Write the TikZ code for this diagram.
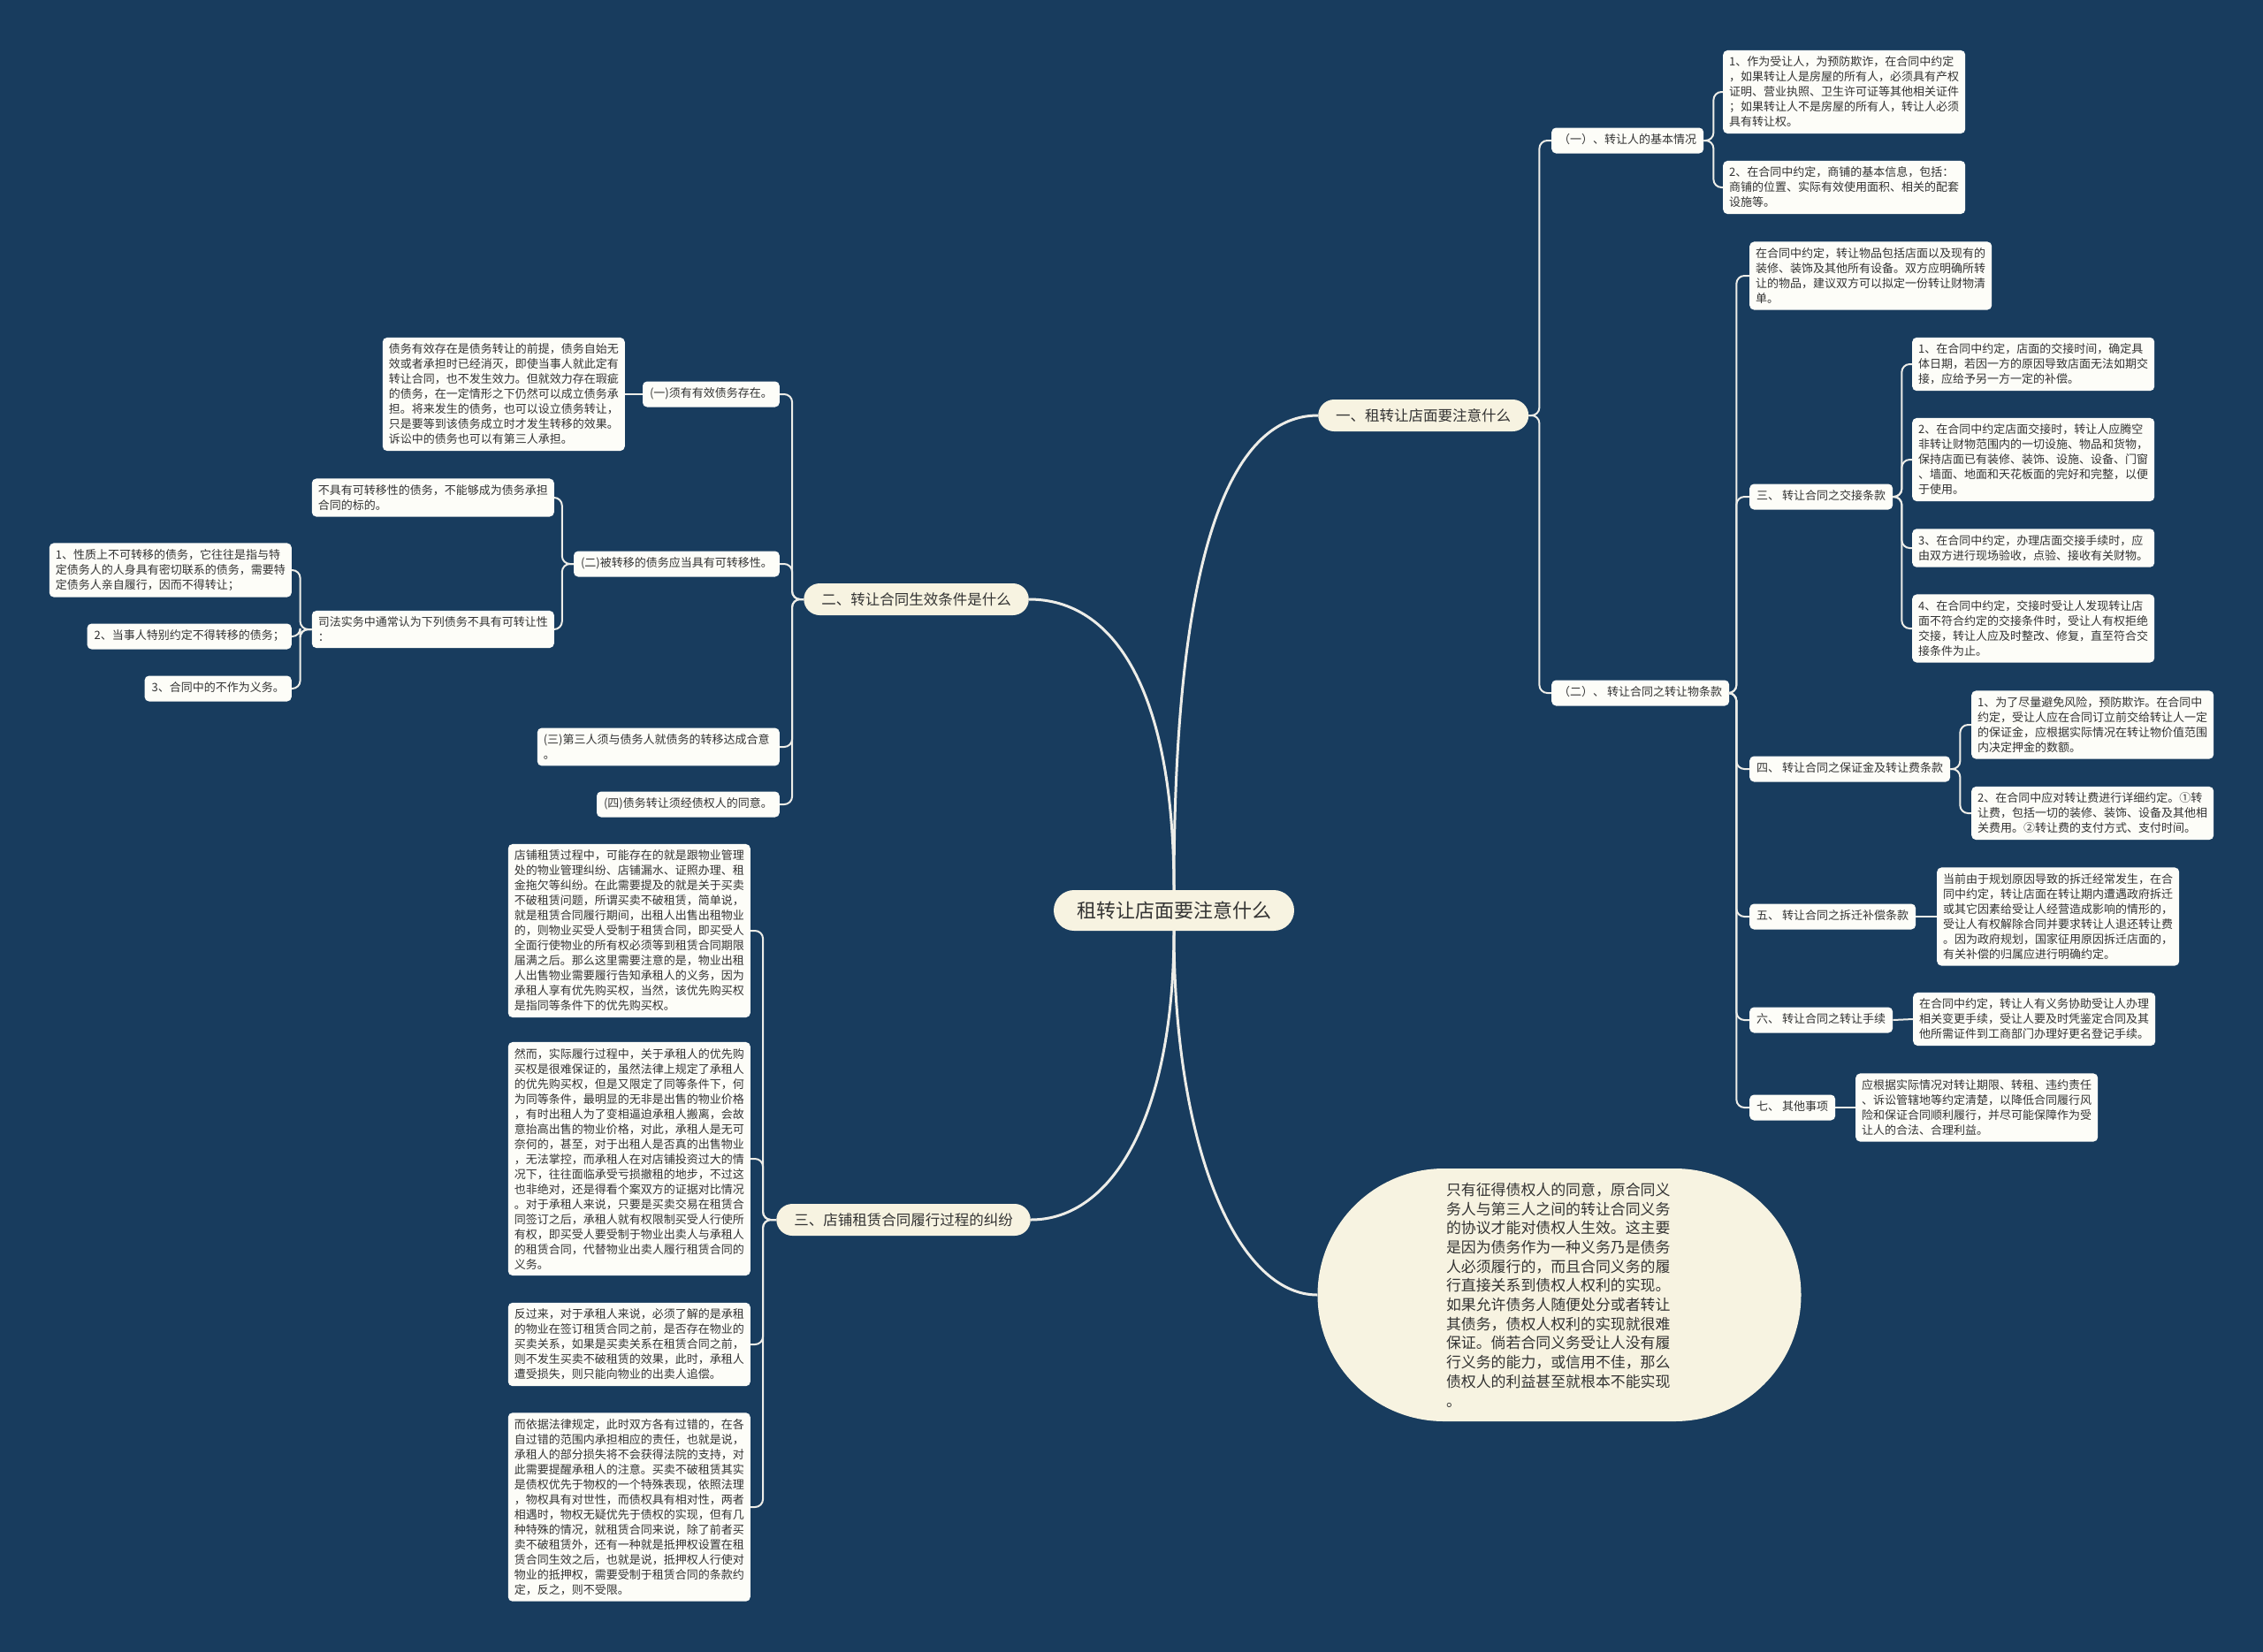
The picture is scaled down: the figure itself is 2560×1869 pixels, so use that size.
\documentclass[tikz,border=0pt]{standalone}
\usepackage{fontspec}
\setmainfont{Noto Sans CJK SC}
\usetikzlibrary{shapes.misc}
\definecolor{bg}{HTML}{183C5E}
\definecolor{leafc}{HTML}{FDFDF8}
\definecolor{cream}{HTML}{F7F3E1}
\definecolor{txt}{HTML}{333333}
\definecolor{lnk}{HTML}{EDEDE8}
\begin{document}
\begin{tikzpicture}[x=1pt,y=-1pt,
 leaf/.style={fill=leafc, rounded corners=5pt, text=txt, align=left, text width=260pt, inner xsep=7pt, inner ysep=7pt, font=\fontsize{13}{17}\selectfont},
 mid/.style={fill=leafc, rounded corners=5pt, text=txt, inner xsep=8pt, inner ysep=8pt, text height=10pt, text depth=3pt, font=\fontsize{13}{17}\selectfont},
 l1/.style={fill=cream, rounded corners=18pt, minimum height=36pt, inner xsep=20pt, inner ysep=0pt, text=txt, font=\fontsize{16.5}{20}\selectfont},
 rootn/.style={fill=cream, rounded corners=23pt, minimum height=46pt, inner xsep=26pt, inner ysep=0pt, text=txt, font=\fontsize{22}{26}\selectfont},
 ell/.style={rounded rectangle, fill=cream, minimum width=547pt, minimum height=286pt, inner sep=0pt, text width=256pt, align=left, text=txt, font=\fontsize{16.9}{21.7}\selectfont},
 link/.style={draw=lnk, line width=2pt, rounded corners=9pt},
 link1/.style={draw=lnk, line width=3pt},
]
\fill[bg] (0,0) rectangle (2560,1869);
\useasboundingbox (0,0) rectangle (2560,1869);

% root and level 1
\node[rootn] (root) at (1328,1030) {租转让店面要注意什么};
\node[l1, anchor=west] (r1) at (1491,470) {一、租转让店面要注意什么};
\node[l1, anchor=east] (la) at (1164,678) {二、转让合同生效条件是什么};
\node[l1, anchor=east] (lb) at (1166,1380) {三、店铺租赁合同履行过程的纠纷};
\node[ell] (ell) at (1764,1465) {只有征得债权人的同意，原合同义\\务人与第三人之间的转让合同义务\\的协议才能对债权人生效。这主要\\是因为债务作为一种义务乃是债务\\人必须履行的，而且合同义务的履\\行直接关系到债权人权利的实现。\\如果允许债务人随便处分或者转让\\其债务，债权人权利的实现就很难\\保证。倘若合同义务受让人没有履\\行义务的能力，或信用不佳，那么\\债权人的利益甚至就根本不能实现\\。};

\draw[link1] (root.north) .. controls (1328,600) and (1400,470) .. (r1.west);
\draw[link1] (root.north) .. controls (1328,780) and (1260,678) .. (la.east);
\draw[link1] (root.south) .. controls (1328,1260) and (1260,1380) .. (lb.west -| lb.east);
\draw[link1] (root.south) .. controls (1328,1300) and (1400,1465) .. (ell.west);

% right branch
\node[mid, anchor=west] (a1) at (1755,159) {（一）、转让人的基本情况};
\node[mid, anchor=west] (a2) at (1755,784) {（二）、 转让合同之转让物条款};
\node[leaf, anchor=west] (a11) at (1949,104) {1、作为受让人，为预防欺诈，在合同中约定\\，如果转让人是房屋的所有人，必须具有产权\\证明、营业执照、卫生许可证等其他相关证件\\；如果转让人不是房屋的所有人，转让人必须\\具有转让权。};
\node[leaf, anchor=west] (a12) at (1949,212) {2、在合同中约定，商铺的基本信息，包括：\\商铺的位置、实际有效使用面积、相关的配套\\设施等。};

\node[leaf, anchor=west] (b0) at (1979,312) {在合同中约定，转让物品包括店面以及现有的\\装修、装饰及其他所有设备。双方应明确所转\\让的物品，建议双方可以拟定一份转让财物清\\单。};
\node[mid, anchor=west] (b3) at (1979,562) {三、 转让合同之交接条款};
\node[mid, anchor=west] (b4) at (1979,870) {四、 转让合同之保证金及转让费条款};
\node[mid, anchor=west] (b5) at (1979,1037) {五、 转让合同之拆迁补偿条款};
\node[mid, anchor=west] (b6) at (1979,1154) {六、 转让合同之转让手续};
\node[mid, anchor=west] (b7) at (1979,1253) {七、 其他事项};

\node[leaf, anchor=west] (c1) at (2163,412) {1、在合同中约定，店面的交接时间，确定具\\体日期，若因一方的原因导致店面无法如期交\\接，应给予另一方一定的补偿。};
\node[leaf, anchor=west] (c2) at (2163,520) {2、在合同中约定店面交接时，转让人应腾空\\非转让财物范围内的一切设施、物品和货物，\\保持店面已有装修、装饰、设施、设备、门窗\\、墙面、地面和天花板面的完好和完整，以便\\于使用。};
\node[leaf, anchor=west] (c3) at (2163,620) {3、在合同中约定，办理店面交接手续时，应\\由双方进行现场验收，点验、接收有关财物。};
\node[leaf, anchor=west] (c4) at (2163,711) {4、在合同中约定，交接时受让人发现转让店\\面不符合约定的交接条件时，受让人有权拒绝\\交接，转让人应及时整改、修复，直至符合交\\接条件为止。};

\node[leaf, anchor=west] (d1) at (2230,820) {1、为了尽量避免风险，预防欺诈。在合同中\\约定，受让人应在合同订立前交给转让人一定\\的保证金，应根据实际情况在转让物价值范围\\内决定押金的数额。};
\node[leaf, anchor=west] (d2) at (2230,920) {2、在合同中应对转让费进行详细约定。①转\\让费，包括一切的装修、装饰、设备及其他相\\关费用。②转让费的支付方式、支付时间。};

\node[leaf, anchor=west] (e1) at (2191,1037) {当前由于规划原因导致的拆迁经常发生，在合\\同中约定，转让店面在转让期内遭遇政府拆迁\\或其它因素给受让人经营造成影响的情形的，\\受让人有权解除合同并要求转让人退还转让费\\。因为政府规划，国家征用原因拆迁店面的，\\有关补偿的归属应进行明确约定。};
\node[leaf, anchor=west] (f1) at (2164,1153) {在合同中约定，转让人有义务协助受让人办理\\相关变更手续，受让人要及时凭鉴定合同及其\\他所需证件到工商部门办理好更名登记手续。};
\node[leaf, anchor=west] (g1) at (2099,1253) {应根据实际情况对转让期限、转租、违约责任\\、诉讼管辖地等约定清楚，以降低合同履行风\\险和保证合同顺利履行，并尽可能保障作为受\\让人的合法、合理利益。};

\foreach \c in {a1,a2} \draw[link] (r1.east) -- ++(12,0) |- (\c.west);
\foreach \c in {a11,a12} \draw[link] (a1.east) -- ++(11,0) |- (\c.west);
\foreach \c in {b0,b3,b4,b5,b6,b7} \draw[link] (a2.east) -- ++(8,0) |- (\c.west);
\foreach \c in {c1,c2,c3,c4} \draw[link] (b3.east) -- ++(10,0) |- (\c.west);
\foreach \c in {d1,d2} \draw[link] (b4.east) -- ++(11,0) |- (\c.west);
\draw[link] (b5.east) -- (e1.west);
\draw[link] (b6.east) -- (f1.west);
\draw[link] (b7.east) -- (g1.west);

% left branch: 二
\node[mid, anchor=east] (p1) at (882,446) {(一)须有有效债务存在。};
\node[leaf, anchor=east] (p1c) at (707,446) {债务有效存在是债务转让的前提，债务自始无\\效或者承担时已经消灭，即使当事人就此定有\\转让合同，也不发生效力。但就效力存在瑕疵\\的债务，在一定情形之下仍然可以成立债务承\\担。将来发生的债务，也可以设立债务转让，\\只是要等到该债务成立时才发生转移的效果。\\诉讼中的债务也可以有第三人承担。};
\node[mid, anchor=east] (p2) at (882,638) {(二)被转移的债务应当具有可转移性。};
\node[leaf, anchor=east] (q1) at (627,563) {不具有可转移性的债务，不能够成为债务承担\\合同的标的。};
\node[leaf, anchor=east] (q2) at (627,712) {司法实务中通常认为下列债务不具有可转让性\\：};
\node[leaf, anchor=east] (s1) at (330,645) {1、性质上不可转移的债务，它往往是指与特\\定债务人的人身具有密切联系的债务，需要特\\定债务人亲自履行，因而不得转让；};
\node[mid, anchor=east] (s2) at (330,720) {2、当事人特别约定不得转移的债务；};
\node[mid, anchor=east] (s3) at (330,779) {3、合同中的不作为义务。};
\node[leaf, anchor=east] (p3) at (882,845) {(三)第三人须与债务人就债务的转移达成合意\\。};
\node[mid, anchor=east] (p4) at (882,910) {(四)债务转让须经债权人的同意。};

\foreach \c in {p1,p2,p3,p4} \draw[link] (la.west) -- ++(-13,0) |- (\c.east);
\draw[link] (p1.west) -- (p1c.east);
\foreach \c in {q1,q2} \draw[link] (p2.west) -- ++(-13,0) |- (\c.east);
\foreach \c in {s1,s2,s3} \draw[link] (q2.west) -- ++(-13,0) |- (\c.east);

% left branch: 三
\node[leaf, anchor=east] (t1) at (849,1053) {店铺租赁过程中，可能存在的就是跟物业管理\\处的物业管理纠纷、店铺漏水、证照办理、租\\金拖欠等纠纷。在此需要提及的就是关于买卖\\不破租赁问题，所谓买卖不破租赁，简单说，\\就是租赁合同履行期间，出租人出售出租物业\\的，则物业买受人受制于租赁合同，即买受人\\全面行使物业的所有权必须等到租赁合同期限\\届满之后。那么这里需要注意的是，物业出租\\人出售物业需要履行告知承租人的义务，因为\\承租人享有优先购买权，当然，该优先购买权\\是指同等条件下的优先购买权。};
\node[leaf, anchor=east] (t2) at (849,1311) {然而，实际履行过程中，关于承租人的优先购\\买权是很难保证的，虽然法律上规定了承租人\\的优先购买权，但是又限定了同等条件下，何\\为同等条件，最明显的无非是出售的物业价格\\，有时出租人为了变相逼迫承租人搬离，会故\\意抬高出售的物业价格，对此，承租人是无可\\奈何的，甚至，对于出租人是否真的出售物业\\，无法掌控，而承租人在对店铺投资过大的情\\况下，往往面临承受亏损撤租的地步，不过这\\也非绝对，还是得看个案双方的证据对比情况\\。对于承租人来说，只要是买卖交易在租赁合\\同签订之后，承租人就有权限制买受人行使所\\有权，即买受人要受制于物业出卖人与承租人\\的租赁合同，代替物业出卖人履行租赁合同的\\义务。};
\node[leaf, anchor=east] (t3) at (849,1521) {反过来，对于承租人来说，必须了解的是承租\\的物业在签订租赁合同之前，是否存在物业的\\买卖关系，如果是买卖关系在租赁合同之前，\\则不发生买卖不破租赁的效果，此时，承租人\\遭受损失，则只能向物业的出卖人追偿。};
\node[leaf, anchor=east] (t4) at (849,1705) {而依据法律规定，此时双方各有过错的，在各\\自过错的范围内承担相应的责任，也就是说，\\承租人的部分损失将不会获得法院的支持，对\\此需要提醒承租人的注意。买卖不破租赁其实\\是债权优先于物权的一个特殊表现，依照法理\\，物权具有对世性，而债权具有相对性，两者\\相遇时，物权无疑优先于债权的实现，但有几\\种特殊的情况，就租赁合同来说，除了前者买\\卖不破租赁外，还有一种就是抵押权设置在租\\赁合同生效之后，也就是说，抵押权人行使对\\物业的抵押权，需要受制于租赁合同的条款约\\定，反之，则不受限。};

\foreach \c in {t1,t2,t3,t4} \draw[link] (lb.west) -- ++(-15,0) |- (\c.east);
\end{tikzpicture}
\end{document}
